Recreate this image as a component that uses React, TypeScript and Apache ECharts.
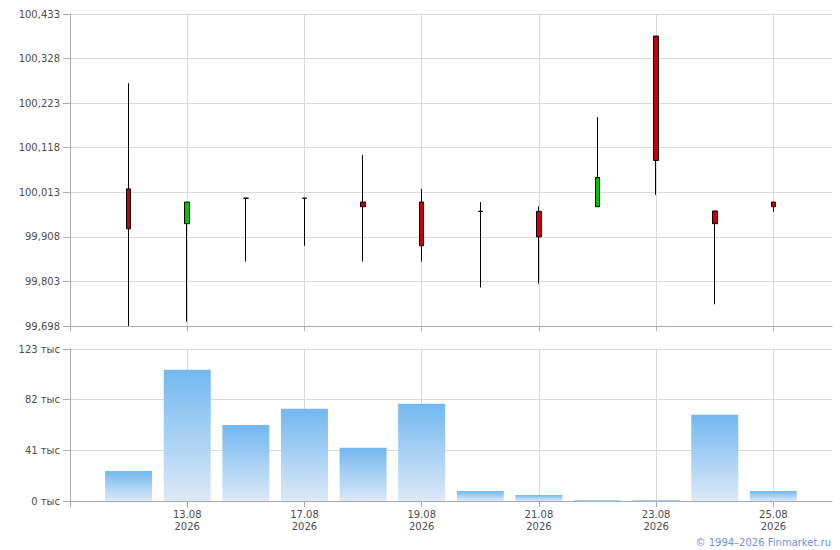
import React, { useEffect, useRef } from "react";
import * as echarts from "echarts";

const dates = [
  "12.08.2026", "13.08.2026", "14.08.2026", "17.08.2026", "18.08.2026", "19.08.2026",
  "20.08.2026", "21.08.2026", "22.08.2026", "23.08.2026", "24.08.2026", "25.08.2026",
];
const openPrices = [100.021, 99.939, 99.999, 99.999, 99.990, 99.990, 99.968, 99.968, 99.979, 100.381, 99.969, 99.990];
const closePrices = [99.927, 99.990, 99.999, 99.999, 99.979, 99.887, 99.968, 99.908, 100.048, 100.088, 99.939, 99.979];
const lowPrices = [99.698, 99.708, 99.850, 99.887, 99.850, 99.850, 99.789, 99.798, 99.979, 100.007, 99.749, 99.967];
const highPrices = [100.270, 99.990, 99.999, 99.999, 100.101, 100.021, 99.990, 99.980, 100.190, 100.381, 99.969, 99.990];
const volumes = [24300, 106200, 61600, 74600, 43000, 78600, 8100, 4900, 800, 800, 69700, 8100];

const priceMin = 99.698;
const priceStep = 0.105;
const priceSteps = 7;
const volumeMax = 123000;
const volumeStep = 41000;

const FONT = "DejaVu Sans";
const AXIS_COLOR = "#a7acb4";
const GRID_COLOR = "#d6dade";
const TEXT_COLOR = "#4d4d4d";

export default function App() {
  const ref = useRef<HTMLDivElement>(null);
  useEffect(() => {
    document.body.style.margin = "0";
    if (!ref.current) return;
    const chart = echarts.init(ref.current, undefined, { renderer: "svg" });
    const cats = ["", ...dates, ""];
    const scale = (v: number) => (v - priceMin) / priceStep;
    const candleData = dates.map((_, i) => [
      i + 1,
      scale(openPrices[i]),
      scale(closePrices[i]),
      scale(lowPrices[i]),
      scale(highPrices[i]),
    ]);
    const volData: any[] = ["-", ...volumes, "-"];
    const even = (i: number) => i % 2 === 0;

    chart.setOption({
      animation: false,
      grid: [
        { left: 70, right: 8, top: 14, height: 312 },
        { left: 70, right: 8, top: 349, height: 152 },
      ],
      xAxis: [
        {
          type: "category",
          gridIndex: 0,
          data: cats,
          boundaryGap: false,
          axisLine: { lineStyle: { color: AXIS_COLOR } },
          axisTick: { interval: even, length: 5, lineStyle: { color: AXIS_COLOR } },
          axisLabel: { show: false },
          splitLine: { show: true, interval: even, lineStyle: { color: GRID_COLOR } },
        },
        {
          type: "category",
          gridIndex: 1,
          data: cats,
          boundaryGap: false,
          axisLine: { lineStyle: { color: AXIS_COLOR } },
          axisTick: { interval: even, length: 6, lineStyle: { color: AXIS_COLOR } },
          axisLabel: {
            interval: even,
            margin: 7,
            color: TEXT_COLOR,
            fontFamily: FONT,
            fontSize: 10,
            lineHeight: 12,
            formatter: (v: string) => {
              if (!v) return "";
              const p = v.split(".");
              return p[0] + "." + p[1] + "\n" + p[2];
            },
          },
          splitLine: { show: true, interval: even, lineStyle: { color: GRID_COLOR } },
        },
      ],
      yAxis: [
        {
          type: "value",
          gridIndex: 0,
          min: 0,
          max: priceSteps,
          interval: 1,
          axisLine: { show: true, lineStyle: { color: AXIS_COLOR } },
          axisTick: { show: true, length: 7, lineStyle: { color: AXIS_COLOR } },
          axisLabel: {
            margin: 10,
            color: TEXT_COLOR,
            fontFamily: FONT,
            fontSize: 10,
            formatter: (v: number) => (priceMin + v * priceStep).toFixed(3).replace(".", ","),
          },
          splitLine: { lineStyle: { color: GRID_COLOR } },
        },
        {
          type: "value",
          gridIndex: 1,
          min: 0,
          max: volumeMax,
          interval: volumeStep,
          axisLine: { show: true, lineStyle: { color: AXIS_COLOR } },
          axisTick: { show: true, length: 7, lineStyle: { color: AXIS_COLOR } },
          axisLabel: {
            margin: 10,
            color: TEXT_COLOR,
            fontFamily: FONT,
            fontSize: 10,
            formatter: (v: number) => Math.round(v / 1000) + " тыс",
          },
          splitLine: { lineStyle: { color: GRID_COLOR } },
        },
      ],
      series: [
        {
          type: "candlestick",
          xAxisIndex: 0,
          yAxisIndex: 0,
          data: candleData,
          encode: { x: 0, y: [1, 2, 3, 4] },
          barWidth: 5,
          itemStyle: {
            color: "#00c400",
            color0: "#cc0000",
            borderColor: "#000000",
            borderColor0: "#000000",
            borderColorDoji: "#000000",
            borderWidth: 1,
          },
        },
        {
          type: "bar",
          xAxisIndex: 1,
          yAxisIndex: 1,
          data: volData,
          barWidth: 47,
          itemStyle: {
            color: new echarts.graphic.LinearGradient(0, 0, 0, 1, [
              { offset: 0, color: "#72b8f0" },
              { offset: 1, color: "#dde9f7" },
            ]),
          },
        },
      ],
      graphic: [
        {
          type: "text",
          right: 9,
          top: 537,
          style: {
            text: "© 1994–2026 Finmarket.ru",
            fill: "#6f8fe0",
            font: `10px "${FONT}"`,
          },
        },
      ],
    });
    return () => chart.dispose();
  }, []);
  return <div ref={ref} style={{ width: 840, height: 550 }} />;
}
